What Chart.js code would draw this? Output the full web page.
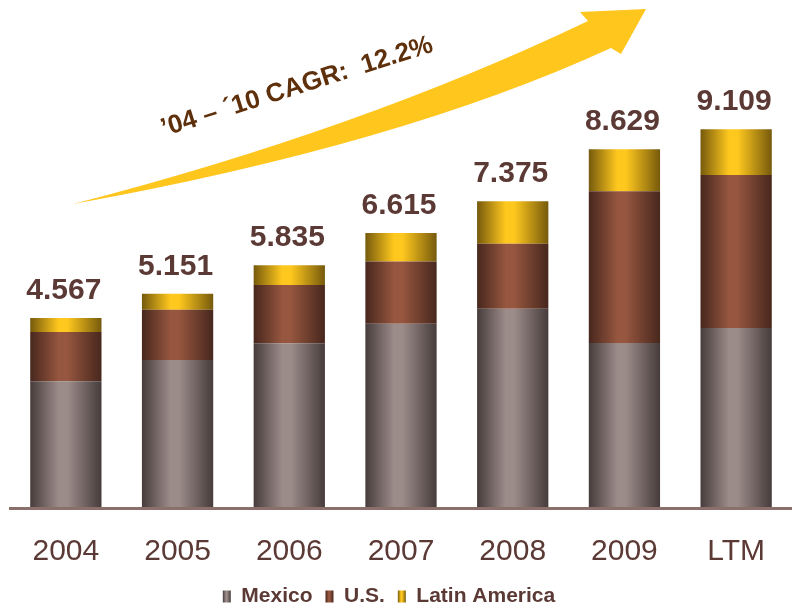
<!DOCTYPE html>
<html>
<head>
<meta charset="utf-8">
<script src="https://cdn.jsdelivr.net/npm/chart.js@4.4.1/dist/chart.umd.min.js"></script>
<style>
  html, body { margin: 0; padding: 0; background: #ffffff; overflow: hidden; }
  canvas { display: block; }
</style>
</head>
<body>
<canvas id="c" width="792" height="607"></canvas>
<script>
// Revenue by region, stacked per period
const categories = ['2004', '2005', '2006', '2007', '2008', '2009', 'LTM'];
const mexico = [3.05, 3.56, 3.96, 4.43, 4.79, 3.97, 4.33];
const us = [1.18, 1.21, 1.40, 1.50, 1.565, 3.645, 3.68];
const latinAmerica = [0.337, 0.381, 0.475, 0.685, 1.02, 1.014, 1.099];
const seriesNames = ['Mexico', 'U.S.', 'Latin America'];
const cagrLabel = '\u201904 \u2013 \u00B410 CAGR:  12.2%';

const FONT = 'Arial, "Liberation Sans", sans-serif';
const TEXT = '#5b3934';
const BAR_PCT = 0.638;

// dark edge / light centre for the cylinder-like shading
const shades = {
  'Mexico': ['#463c3b', '#9c8c89'],
  'U.S.': ['#47271d', '#96563f'],
  'Latin America': ['#765a0c', '#ffc81e']
};

function hGradient(g, x0, x1, pair) {
  if (!isFinite(x0) || !isFinite(x1) || x1 <= x0) return pair[1];
  const gr = g.createLinearGradient(x0, 0, x1, 0);
  gr.addColorStop(0, pair[0]);
  gr.addColorStop(0.4, pair[1]);
  gr.addColorStop(0.52, pair[1]);
  gr.addColorStop(1, pair[0]);
  return gr;
}

function barFill(name) {
  return (ctx) => {
    const chart = ctx.chart;
    const xs = chart.scales && chart.scales.x;
    if (ctx.type !== 'data' || !xs) return shades[name][1];
    const cx = xs.getPixelForValue(ctx.dataIndex);
    const half = xs.width / categories.length * BAR_PCT / 2;
    return hGradient(chart.ctx, cx - half, cx + half, shades[name]);
  };
}

const decorations = {
  id: 'decorations',
  afterUpdate(chart) {
    const lg = chart.legend;
    if (!lg || !lg.legendItems || !lg.legendHitBoxes) return;
    // legend sits a little left of centre, close under the axis labels
    lg.left -= 16;
    lg.right -= 16;
    lg.top -= 23;
    lg.bottom -= 23;
    lg.adjustHitBoxes();
    const bw = lg.options.labels.boxWidth;
    lg.legendItems.forEach((item, i) => {
      const hb = lg.legendHitBoxes[i];
      if (hb) item.fillStyle = hGradient(chart.ctx, hb.left, hb.left + bw, shades[item.text]);
    });
  },
  beforeDatasetsDraw(chart) {
    const g = chart.ctx;
    // growth arrow
    g.save();
    g.fillStyle = '#ffc61e';
    g.beginPath();
    g.moveTo(73, 204);
    g.quadraticCurveTo(360, 130, 588, 21);
    g.lineTo(580, 12);
    g.lineTo(646, 9);
    g.lineTo(621, 54);
    g.lineTo(611, 48);
    g.quadraticCurveTo(400, 145, 73, 204);
    g.closePath();
    g.fill();
    g.restore();

    g.save();
    g.translate(297, 87);
    g.rotate(-17.5 * Math.PI / 180);
    g.font = 'bold 26px ' + FONT;
    g.fillStyle = '#5e300b';
    g.textAlign = 'center';
    g.textBaseline = 'middle';
    g.fillText(cagrLabel, 0, 0);
    g.restore();
  },
  afterDatasetsDraw(chart) {
    const g = chart.ctx;
    const xs = chart.scales.x, ys = chart.scales.y;
    g.save();
    g.font = 'bold 30px ' + FONT;
    g.fillStyle = TEXT;
    g.textAlign = 'center';
    g.textBaseline = 'alphabetic';
    categories.forEach((c, i) => {
      const total = mexico[i] + us[i] + latinAmerica[i];
      g.fillText(total.toFixed(3), xs.getPixelForValue(i) - 2, ys.getPixelForValue(total) - 19);
    });
    g.restore();
  }
};

new Chart(document.getElementById('c'), {
  type: 'bar',
  data: {
    labels: categories,
    datasets: [
      { label: seriesNames[0], data: mexico, backgroundColor: barFill(seriesNames[0]) },
      { label: seriesNames[1], data: us, backgroundColor: barFill(seriesNames[1]) },
      { label: seriesNames[2], data: latinAmerica, backgroundColor: barFill(seriesNames[2]) }
    ]
  },
  options: {
    responsive: false,
    animation: false,
    layout: { padding: { left: 10, right: -8, top: 9, bottom: -33 } },
    datasets: { bar: { categoryPercentage: 1, barPercentage: BAR_PCT, borderWidth: 0 } },
    scales: {
      x: {
        stacked: true,
        grid: { display: false, drawTicks: false },
        border: { display: true, color: '#8b6f6b', width: 3, z: 1 },
        ticks: { color: TEXT, font: { family: FONT, size: 30 }, padding: 26, maxRotation: 0, autoSkip: false }
      },
      y: { stacked: true, display: false, min: 0, max: 12 }
    },
    plugins: {
      legend: {
        position: 'bottom',
        labels: {
          boxWidth: 8, boxHeight: 12, padding: 13, color: TEXT,
          font: { family: FONT, size: 21, weight: 'bold' }
        }
      },
      tooltip: { enabled: false }
    }
  },
  plugins: [decorations]
});
</script>
</body>
</html>
